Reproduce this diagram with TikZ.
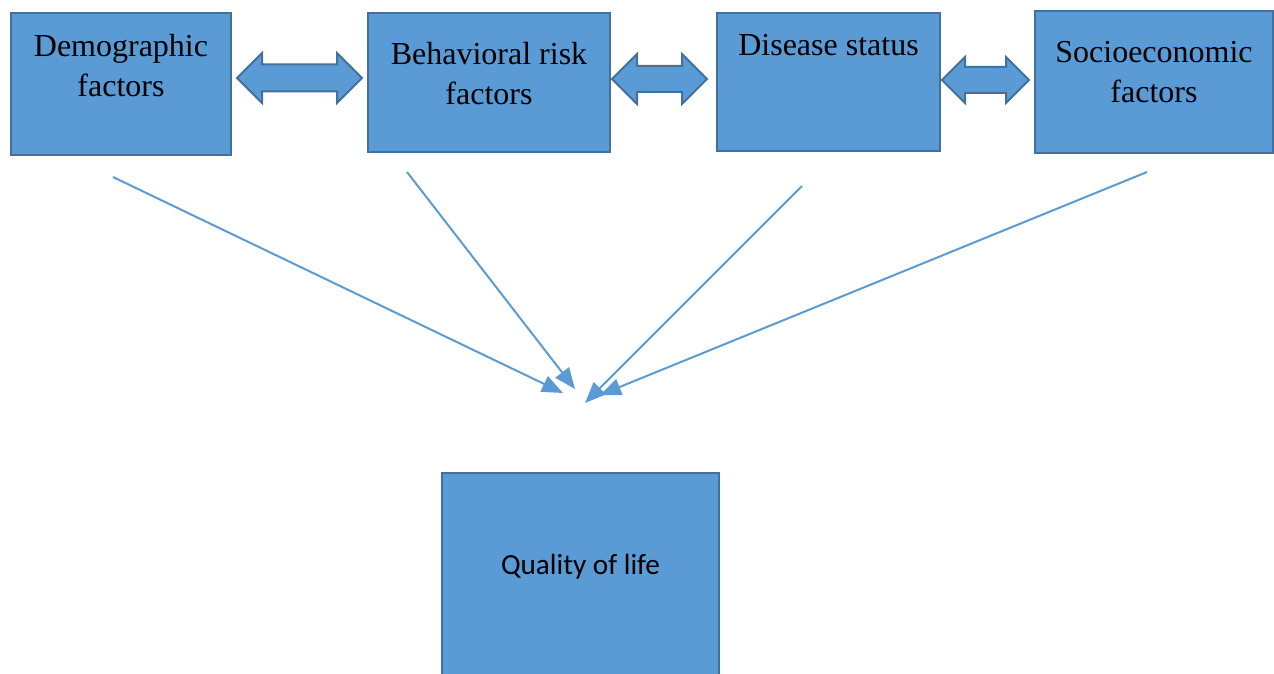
\documentclass[tikz,border=0pt]{standalone}
\usepackage{xcolor}
\usepackage{fontspec}
\setmainfont{Liberation Serif}
\newfontfamily\qolfont{Carlito}
\usetikzlibrary{arrows.meta,shapes.arrows}

\definecolor{boxfill}{RGB}{91,155,213}
\definecolor{boxline}{RGB}{65,113,156}

\tikzset{
  factor/.style={draw=boxline,fill=boxfill,line width=1pt,inner sep=0pt},
  factortext/.style={font=\fontsize{16}{20}\selectfont,align=center,inner sep=0pt,anchor=north},
  linkarrow/.style={double arrow,draw=boxline,fill=boxfill,line width=1pt,inner xsep=0pt,double arrow tip angle=90},
  influence/.style={draw=boxfill,line width=1pt,-{Triangle[length=10.5pt,width=8.5pt]}}
}

\begin{document}
\begin{tikzpicture}[x=0.5pt,y=-0.5pt]
        \useasboundingbox (0,0) rectangle (1274,674);
        % factor boxes
        \node[factor,minimum width=110pt,minimum height=71pt,label={[factortext,yshift=-10.8pt]north:Demographic\\factors}] (demo) at (121,84) {};
        \node[factor,minimum width=121pt,minimum height=69.5pt,label={[factortext,yshift=-14.8pt]north:Behavioral risk\\factors}] (behav) at (489,82.5) {};
        \node[factor,minimum width=111.5pt,minimum height=69pt,label={[factortext,yshift=-11.1pt]north:Disease status}] (disease) at (828.5,82) {};
        \node[factor,minimum width=119pt,minimum height=71pt,label={[factortext,yshift=-15.3pt]north:Socioeconomic\\factors}] (socio) at (1154,82) {};
        \node[factor,minimum width=138.5pt,minimum height=108.5pt,label={[font=\qolfont\fontsize{14.6}{17}\selectfont,inner sep=0pt,anchor=base,yshift=-51pt]north:Quality of life}] (qol) at (580.5,581.5) {};
        
        % links between factors
        \node[linkarrow,minimum height=62.5pt,minimum width=24pt,inner ysep=6.25pt,double arrow head extend=5.75pt] (demo-behav) at (299.5,78) {};
        \node[linkarrow,minimum height=47.5pt,minimum width=24pt,inner ysep=6pt,double arrow head extend=6pt] (behav-disease) at (659.5,79) {};
        \node[linkarrow,minimum height=43.5pt,minimum width=22pt,inner ysep=6pt,double arrow head extend=5pt] (disease-socio) at (985.5,80) {};
        
        % arrows towards quality of life
        \coordinate (demo-out) at (113,177);
        \coordinate (behav-out) at (407,172);
        \coordinate (disease-out) at (802,186);
        \coordinate (socio-out) at (1147,172);
        \coordinate (qol-in1) at (563,393);
        \coordinate (qol-in2) at (575,389);
        \coordinate (qol-in3) at (585,403);
        \coordinate (qol-in4) at (600,395);
        \draw[influence] (demo-out) -- (qol-in1);
        \draw[influence] (behav-out) -- (qol-in2);
        \draw[influence] (disease-out) -- (qol-in3);
        \draw[influence] (socio-out) -- (qol-in4);
        
\end{tikzpicture}
\end{document}
